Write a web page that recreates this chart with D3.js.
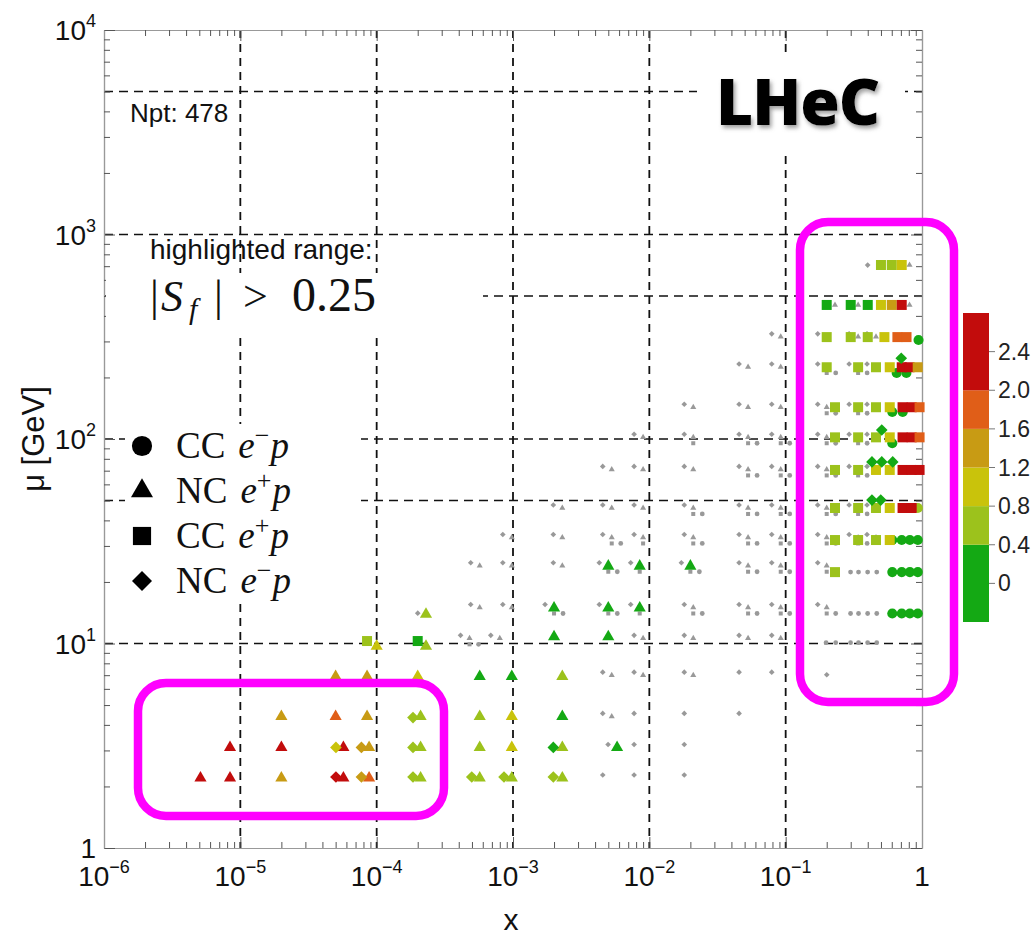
<!DOCTYPE html>
<html>
<head>
<meta charset="utf-8">
<script src="https://cdn.jsdelivr.net/npm/d3@7"></script>
<style>
body { margin: 0; background: #fff; }
</style>
</head>
<body>
<div class="canvas"></div>
<script>
// DATA ------------------------------------------------------------------------
// axis ticks (value + exponent label, '' = plain "1")
const xTickValues = [1e-6, 1e-5, 1e-4, 1e-3, 1e-2, 1e-1, 1];
const xTickLabels = ['\u22126', '\u22125', '\u22124', '\u22123', '\u22122', '\u22121', ''];
const yTickValues = [1, 10, 100, 1000, 10000];
const yTickLabels = ['', '1', '2', '3', '4'];

// dashed reference lines
const gridX = [1e-5, 1e-4, 1e-3, 1e-2, 1e-1];
const gridMu = [5000, 1000, 500, 100, 50, 10];

// colour bar
const colorBreaks = [0.4, 0.8, 1.2, 1.6, 2.0];
const colorTicks = [0, 0.4, 0.8, 1.2, 1.6, 2.0, 2.4];
const colorDomain = [-0.4, 2.8];
const sfCut = 0.25;

// points: [x, mu (GeV), Sf]
const ccEmP = [   // CC e-p, circles
  [0.52, 34.3, 0.3], [0.61, 34.3, 0.3], [0.70, 34.3, 0.3], [0.80, 34.3, 0.3],
  [0.52, 23.9, 0.3], [0.61, 23.9, 0.3], [0.70, 23.9, 0.3], [0.80, 23.9, 0.3],
  [0.52, 15.0, 0.3], [0.61, 15.0, 0.3], [0.70, 15.0, 0.3], [0.80, 15.0, 0.3],
  [0.80, 49.2, 0.6], [0.52, 102, 0.3], [0.52, 145, 0.3], [0.62, 145, 0.3],
  [0.56, 225, 0.3], [0.66, 225, 0.3], [0.81, 326, 0.3],
  [0.2, 225, 0.1], [0.34, 225, 0.1], [0.2, 143, 0.1], [0.34, 143, 0.1],
  [5.3e-2, 102, 0.1], [9.2e-2, 102, 0.1], [0.2, 102, 0.1], [0.34, 102, 0.1],
  [5.3e-2, 71, 0.1], [9.2e-2, 71, 0.1], [0.2, 71, 0.1], [0.34, 71, 0.1],
  [2.1e-2, 46, 0.1], [5.3e-2, 46, 0.1], [9.2e-2, 46, 0.1], [0.2, 46, 0.1], [0.34, 46, 0.1],
  [5.3e-3, 33, 0.1], [2.1e-2, 33, 0.1], [5.3e-2, 33, 0.1], [9.2e-2, 33, 0.1], [0.2, 33, 0.1], [0.34, 33, 0.1],
  [5.0e-3, 24, 0.1], [2.0e-2, 24, 0.1], [5.3e-2, 24, 0.1], [9.2e-2, 24, 0.1], [0.2, 24, 0.1],
  [2.0e-3, 15, 0.1], [5.0e-3, 15, 0.1], [2.1e-2, 15, 0.1], [5.3e-2, 15, 0.1], [9.2e-2, 15, 0.1], [0.2, 15, 0.1],
  [4.8e-4, 10.6, 0.1],
  [0.257, 23.9, 0.1], [0.294, 23.9, 0.1], [0.343, 23.9, 0.1], [0.40, 23.9, 0.1],
  [0.257, 15.0, 0.1], [0.294, 15.0, 0.1], [0.343, 15.0, 0.1], [0.40, 15.0, 0.1],
  [0.17, 10.8, 0.1], [0.2, 10.8, 0.1], [0.257, 10.8, 0.1], [0.294, 10.8, 0.1], [0.343, 10.8, 0.1], [0.40, 10.8, 0.1]
];

const ncEpP = [   // NC e+p, triangles
  [5.1e-6, 2.2, 2.2], [8.4e-6, 2.2, 2.2], [2.0e-5, 2.2, 1.3], [5.7e-5, 2.2, 2.2], [8.8e-5, 2.2, 1.8],
  [2.1e-4, 2.2, 0.7], [5.7e-4, 2.2, 0.6], [9.8e-4, 2.2, 0.6], [2.3e-3, 2.2, 0.6],
  [8.4e-6, 3.1, 2.2], [2.0e-5, 3.1, 2.5], [5.7e-5, 3.1, 2.5], [8.8e-5, 3.1, 1.4], [2.1e-4, 3.1, 0.7],
  [5.7e-4, 3.1, 0.7], [9.8e-4, 3.1, 1.0], [2.3e-3, 3.1, 0.6], [5.8e-3, 3.1, 0.3],
  [2.0e-5, 4.4, 1.3], [5.0e-5, 4.4, 1.8], [8.5e-5, 4.4, 1.3], [2.1e-4, 4.4, 0.7], [5.7e-4, 4.4, 0.7],
  [9.8e-4, 4.4, 0.9], [2.3e-3, 4.4, 0.3],
  [5.0e-5, 6.9, 1.3], [8.5e-5, 6.9, 1.3], [2.0e-4, 6.9, 0.9], [5.7e-4, 6.9, 0.3], [9.8e-4, 6.9, 0.3], [2.3e-3, 6.9, 0.6],
  [1.0e-4, 9.7, 0.9], [2.3e-4, 9.7, 0.6], [2.3e-4, 13.9, 0.6],
  [2.0e-3, 10.8, 0.3], [5.0e-3, 10.8, 0.3],
  [2.0e-3, 14.9, 0.3], [5.0e-3, 14.9, 0.3], [8.5e-3, 14.9, 0.3],
  [5.0e-3, 23.9, 0.3], [8.5e-3, 23.9, 0.3], [2.0e-2, 23.9, 0.3],
  [9.2e-2, 316, 0.1], [0.2, 316, 0.1], [0.34, 316, 0.1], [0.46, 316, 0.1],
  [5.3e-2, 225, 0.1], [9.2e-2, 225, 0.1], [0.2, 225, 0.1], [0.34, 225, 0.1], [0.46, 225, 0.1],
  [2.1e-2, 143, 0.1], [5.3e-2, 143, 0.1], [9.2e-2, 143, 0.1], [0.2, 143, 0.1], [0.34, 143, 0.1], [0.46, 143, 0.1],
  [9.0e-3, 102, 0.1], [2.1e-2, 102, 0.1], [5.3e-2, 102, 0.1], [9.2e-2, 102, 0.1], [0.2, 102, 0.1], [0.34, 102, 0.1], [0.46, 102, 0.1],
  [5.3e-3, 71, 0.1], [9.0e-3, 71, 0.1], [2.1e-2, 71, 0.1], [5.3e-2, 71, 0.1], [9.2e-2, 71, 0.1], [0.2, 71, 0.1], [0.34, 71, 0.1], [0.46, 71, 0.1],
  [2.3e-3, 46, 0.1], [5.3e-3, 46, 0.1], [9.0e-3, 46, 0.1], [2.1e-2, 46, 0.1], [5.3e-2, 46, 0.1], [9.2e-2, 46, 0.1], [0.2, 46, 0.1], [0.34, 46, 0.1], [0.46, 46, 0.1],
  [9.8e-4, 33, 0.1], [2.3e-3, 33, 0.1], [5.3e-3, 33, 0.1], [9.0e-3, 33, 0.1], [2.1e-2, 33, 0.1], [5.3e-2, 33, 0.1], [9.2e-2, 33, 0.1], [0.2, 33, 0.1], [0.34, 33, 0.1], [0.46, 33, 0.1],
  [5.7e-4, 24, 0.1], [9.8e-4, 24, 0.1], [2.3e-3, 24, 0.1], [5.3e-2, 24, 0.1], [9.2e-2, 24, 0.1], [0.2, 24, 0.1],
  [5.7e-4, 15, 0.1], [9.8e-4, 15, 0.1], [2.1e-2, 15, 0.1], [5.3e-2, 15, 0.1], [9.2e-2, 15, 0.1], [0.2, 15, 0.1],
  [4.8e-4, 10.6, 0.1], [8.0e-4, 10.6, 0.1], [9.0e-3, 10.6, 0.1], [2.1e-2, 10.6, 0.1], [5.3e-2, 10.6, 0.1], [9.2e-2, 10.6, 0.1],
  [5.3e-3, 7.0, 0.1], [9.0e-3, 7.0, 0.1], [2.1e-2, 7.0, 0.1], [5.3e-3, 4.4, 0.1],
  [0.23, 452, 0.1], [0.34, 452, 0.1], [0.81, 452, 0.1], [0.81, 710, 0.1]
];

const ccEpP = [   // CC e+p, squares
  [0.50, 759, 0.6], [0.60, 759, 0.6], [0.71, 759, 0.9],
  [0.20, 484, 0.3], [0.30, 484, 0.3], [0.40, 484, 0.3], [0.50, 484, 1.0], [0.60, 484, 1.4], [0.71, 484, 2.5],
  [0.20, 337, 0.6], [0.30, 337, 0.6], [0.40, 337, 0.6], [0.53, 337, 1.0], [0.66, 337, 1.8], [0.77, 337, 1.7],
  [0.20, 240, 0.6], [0.34, 240, 0.6], [0.46, 240, 0.6], [0.58, 240, 1.0], [0.71, 240, 2.5], [0.81, 240, 2.5], [0.93, 240, 1.4],
  [0.23, 153, 0.6], [0.34, 153, 0.6], [0.46, 153, 0.6], [0.58, 153, 1.0], [0.72, 153, 2.2], [0.84, 153, 2.2], [0.96, 153, 1.8],
  [0.23, 109, 0.6], [0.34, 109, 0.6], [0.46, 109, 0.6], [0.58, 109, 1.0], [0.72, 109, 2.5], [0.84, 109, 2.5], [0.96, 109, 1.8],
  [0.23, 75.5, 0.6], [0.34, 75.5, 0.6], [0.46, 75.5, 0.9], [0.58, 75.5, 1.0], [0.72, 75.5, 2.2], [0.84, 75.5, 2.2], [0.96, 75.5, 2.2],
  [0.23, 49.2, 0.6], [0.34, 49.2, 0.6], [0.46, 49.2, 0.7], [0.58, 49.2, 1.0], [0.72, 49.2, 2.5], [0.84, 49.2, 2.5],
  [0.23, 34.3, 0.6], [0.34, 34.3, 0.6], [0.46, 34.3, 0.6], [0.58, 34.3, 0.9],
  [0.23, 23.9, 0.6], [8.5e-5, 11.0, 0.6], [2.0e-4, 11.0, 0.3],
  [0.2, 225, 0.1], [0.34, 225, 0.1], [0.2, 143, 0.1], [0.34, 143, 0.1],
  [2.1e-2, 102, 0.1], [5.3e-2, 102, 0.1], [9.2e-2, 102, 0.1], [0.2, 102, 0.1], [0.34, 102, 0.1],
  [5.3e-2, 71, 0.1], [9.2e-2, 71, 0.1], [0.2, 71, 0.1], [0.34, 71, 0.1],
  [2.1e-2, 46, 0.1], [5.3e-2, 46, 0.1], [9.2e-2, 46, 0.1], [0.2, 46, 0.1], [0.34, 46, 0.1],
  [5.3e-3, 33, 0.1], [9.0e-3, 33, 0.1], [2.1e-2, 33, 0.1], [5.3e-2, 33, 0.1], [9.2e-2, 33, 0.1], [0.2, 33, 0.1], [0.34, 33, 0.1],
  [5.0e-3, 24, 0.1], [8.5e-3, 24, 0.1], [2.0e-2, 24, 0.1], [5.3e-2, 24, 0.1], [9.2e-2, 24, 0.1], [0.2, 24, 0.1],
  [2.0e-3, 15, 0.1], [5.0e-3, 15, 0.1], [8.5e-3, 15, 0.1], [2.1e-2, 15, 0.1], [5.3e-2, 15, 0.1], [9.2e-2, 15, 0.1], [0.2, 15, 0.1],
  [4.8e-4, 10.6, 0.1]
];

const ncEmP = [   // NC e-p, diamonds
  [5.85e-5, 2.15, 2.5], [9.0e-5, 2.15, 1.4], [2.15e-4, 2.15, 0.6], [5.8e-4, 2.15, 0.6], [1.0e-3, 2.15, 0.6], [2.3e-3, 2.15, 0.6],
  [5.85e-5, 3.0, 1.0], [9.0e-5, 3.0, 1.4], [2.15e-4, 3.0, 0.6], [2.3e-3, 3.0, 0.3], [2.15e-4, 4.2, 0.6],
  [0.50, 74.7, 0.3], [0.59, 74.7, 0.3], [0.71, 74.7, -0.3], [0.50, 48.6, 0.3], [0.58, 48.6, 0.3],
  [0.59, 107, 0.3], [0.82, 240, 0.3],
  [9.2e-2, 316, 0.1], [0.2, 316, 0.1], [0.34, 316, 0.1], [0.46, 316, 0.1],
  [5.3e-2, 225, 0.1], [9.2e-2, 225, 0.1], [0.2, 225, 0.1], [0.34, 225, 0.1], [0.46, 225, 0.1],
  [2.1e-2, 143, 0.1], [5.3e-2, 143, 0.1], [9.2e-2, 143, 0.1], [0.2, 143, 0.1], [0.34, 143, 0.1], [0.46, 143, 0.1],
  [9.0e-3, 102, 0.1], [2.1e-2, 102, 0.1], [5.3e-2, 102, 0.1], [9.2e-2, 102, 0.1], [0.2, 102, 0.1], [0.34, 102, 0.1], [0.46, 102, 0.1],
  [5.3e-3, 71, 0.1], [9.0e-3, 71, 0.1], [2.1e-2, 71, 0.1], [5.3e-2, 71, 0.1], [9.2e-2, 71, 0.1], [0.2, 71, 0.1], [0.34, 71, 0.1], [0.46, 71, 0.1],
  [2.3e-3, 46, 0.1], [5.3e-3, 46, 0.1], [9.0e-3, 46, 0.1], [2.1e-2, 46, 0.1], [5.3e-2, 46, 0.1], [9.2e-2, 46, 0.1], [0.2, 46, 0.1], [0.34, 46, 0.1], [0.46, 46, 0.1],
  [9.8e-4, 33, 0.1], [2.3e-3, 33, 0.1], [5.3e-3, 33, 0.1], [9.0e-3, 33, 0.1], [2.1e-2, 33, 0.1], [5.3e-2, 33, 0.1], [9.2e-2, 33, 0.1], [0.2, 33, 0.1], [0.34, 33, 0.1], [0.46, 33, 0.1],
  [5.7e-4, 24, 0.1], [9.8e-4, 24, 0.1], [2.3e-3, 24, 0.1], [5.0e-3, 24, 0.1], [8.5e-3, 24, 0.1], [2.0e-2, 24, 0.1], [5.3e-2, 24, 0.1], [9.2e-2, 24, 0.1], [0.2, 24, 0.1],
  [5.7e-4, 15, 0.1], [9.8e-4, 15, 0.1], [2.0e-3, 15, 0.1], [5.0e-3, 15, 0.1], [8.5e-3, 15, 0.1], [2.1e-2, 15, 0.1], [5.3e-2, 15, 0.1], [9.2e-2, 15, 0.1], [0.2, 15, 0.1],
  [4.8e-4, 10.6, 0.1], [8.0e-4, 10.6, 0.1], [9.0e-3, 10.6, 0.1], [2.1e-2, 10.6, 0.1], [5.3e-2, 10.6, 0.1], [9.2e-2, 10.6, 0.1],
  [5.3e-3, 7.0, 0.1], [9.0e-3, 7.0, 0.1], [2.1e-2, 7.0, 0.1], [5.3e-2, 7.0, 0.1], [9.2e-2, 7.0, 0.1],
  [5.3e-3, 4.4, 0.1], [9.0e-3, 4.4, 0.1], [2.1e-2, 4.4, 0.1], [5.3e-2, 4.4, 0.1],
  [5.8e-3, 3.1, 0.1], [9.0e-3, 3.1, 0.1], [2.1e-2, 3.1, 0.1],
  [5.3e-3, 2.2, 0.1], [9.0e-3, 2.2, 0.1], [2.1e-2, 2.2, 0.1],
  [0.465, 685, 0.1], [0.233, 6.8, 0.1], [2.33e-4, 13.6, 0.1]
];

// SET UP GRAPH ----------------------------------------------------------------
const W = 1034, H = 935;
const margin = { top: 30, right: 112, bottom: 87, left: 104 };
const graphWidth = W - margin.left - margin.right;
const graphHeight = H - margin.top - margin.bottom;

const svg = d3.select('.canvas')
  .append('svg')
    .attr('width', W)
    .attr('height', H)
    .style('display', 'block');

svg.append('rect').attr('width', W).attr('height', H).attr('fill', '#fff');

const defs = svg.append('defs');
defs.append('filter')
    .attr('id', 'shadow')
    .attr('x', '-10%').attr('y', '-20%').attr('width', '130%').attr('height', '150%')
  .append('feDropShadow')
    .attr('dx', 2).attr('dy', 3).attr('stdDeviation', 2)
    .attr('flood-color', '#777').attr('flood-opacity', 0.7);

const graph = svg.append('g')
  .attr('transform', `translate(${margin.left}, ${margin.top})`);

const x = d3.scaleLog().domain([1e-6, 1]).range([0, graphWidth]);
const y = d3.scaleLog().domain([1, 1e4]).range([graphHeight, 0]);

const color = d3.scaleThreshold()
  .domain(colorBreaks)
  .range(['#14a914', '#9cc21c', '#c9c30b', '#c89b14', '#e05e18', '#c20c0c']);

// dashed grid
graph.append('g').selectAll('line')
  .data(gridX)
  .join('line')
    .attr('x1', d => x(d)).attr('x2', d => x(d))
    .attr('y1', 0).attr('y2', graphHeight)
    .attr('stroke', '#111').attr('stroke-width', 1.8)
    .attr('stroke-dasharray', '8,6');

graph.append('g').selectAll('line')
  .data(gridMu)
  .join('line')
    .attr('x1', 0).attr('x2', graphWidth)
    .attr('y1', d => y(d)).attr('y2', d => y(d))
    .attr('stroke', '#111').attr('stroke-width', 1.6)
    .attr('stroke-dasharray', '9,6');

// white boxes behind annotations (as in the original figure)
svg.append('rect').attr('x', 697).attr('y', 53).attr('width', 208).attr('height', 97).attr('fill', '#fff');
svg.append('rect').attr('x', 106).attr('y', 273).attr('width', 377).attr('height', 62).attr('fill', '#fff');
svg.append('rect').attr('x', 125).attr('y', 424).attr('width', 236).attr('height', 179).attr('fill', '#fff');

// AXES ------------------------------------------------------------------------
const xMinor = x.ticks().filter(v => !xTickValues.includes(v));
const yMinor = y.ticks().filter(v => !yTickValues.includes(v));

const styleAxis = g => {
  g.select('.domain').attr('stroke', '#999').attr('stroke-width', 1.2);
  g.selectAll('.tick line').attr('stroke', '#555').attr('stroke-width', 1);
  g.selectAll('.tick text').remove();
};

graph.append('g').attr('transform', `translate(0, ${graphHeight})`)
  .call(d3.axisBottom(x).tickValues(xTickValues).tickSize(-11).tickSizeOuter(0)).call(styleAxis);
graph.append('g').attr('transform', `translate(0, ${graphHeight})`)
  .call(d3.axisBottom(x).tickValues(xMinor).tickSize(-6).tickSizeOuter(0)).call(styleAxis);
graph.append('g')
  .call(d3.axisTop(x).tickValues(xTickValues).tickSize(-11).tickSizeOuter(0)).call(styleAxis);
graph.append('g')
  .call(d3.axisTop(x).tickValues(xMinor).tickSize(-6).tickSizeOuter(0)).call(styleAxis);
graph.append('g')
  .call(d3.axisLeft(y).tickValues(yTickValues).tickSize(-11).tickSizeOuter(0)).call(styleAxis);
graph.append('g')
  .call(d3.axisLeft(y).tickValues(yMinor).tickSize(-6).tickSizeOuter(0)).call(styleAxis);
graph.append('g').attr('transform', `translate(${graphWidth}, 0)`)
  .call(d3.axisRight(y).tickValues(yTickValues).tickSize(-11).tickSizeOuter(0)).call(styleAxis);
graph.append('g').attr('transform', `translate(${graphWidth}, 0)`)
  .call(d3.axisRight(y).tickValues(yMinor).tickSize(-6).tickSizeOuter(0)).call(styleAxis);

const labelFont = '"Liberation Sans", Arial, sans-serif';

// tick labels as 10^n
const xl = graph.append('g').selectAll('text')
  .data(xTickValues)
  .join('text')
    .attr('x', d => x(d))
    .attr('y', graphHeight + 38)
    .attr('text-anchor', 'middle')
    .attr('font-family', labelFont)
    .attr('font-size', 28)
    .attr('fill', '#111');
xl.each(function(d, i) {
  const t = d3.select(this);
  if (xTickLabels[i] === '') { t.text('1'); return; }
  t.append('tspan').text('10');
  t.append('tspan').attr('dy', -13).attr('font-size', 18).text(xTickLabels[i]);
});

const yl = graph.append('g').selectAll('text')
  .data(yTickValues)
  .join('text')
    .attr('x', -8)
    .attr('y', d => y(d) + 10)
    .attr('text-anchor', 'end')
    .attr('font-family', labelFont)
    .attr('font-size', 28)
    .attr('fill', '#111');
yl.each(function(d, i) {
  const t = d3.select(this);
  if (yTickLabels[i] === '') { t.text('1'); return; }
  t.append('tspan').text('10');
  t.append('tspan').attr('dy', -13).attr('font-size', 18).text(yTickLabels[i]);
});

// axis titles
svg.append('text')
  .attr('x', margin.left + x(1e-3) - 2)
  .attr('y', 930)
  .attr('text-anchor', 'middle')
  .attr('font-family', labelFont)
  .attr('font-size', 30)
  .attr('fill', '#111')
  .text('x');

svg.append('text')
  .attr('transform', `translate(44, ${margin.top + y(100)}) rotate(-90)`)
  .attr('text-anchor', 'middle')
  .attr('font-family', labelFont)
  .attr('font-size', 31)
  .attr('fill', '#111')
  .text('\u03bc [GeV]');

// POINTS ----------------------------------------------------------------------
const series = [
  { label: ['CC', '\u2212'], data: ccEmP, type: d3.symbolCircle, rot: 0, dx: 9, dy: 6, big: 80, small: 18, legend: 320 },
  { label: ['NC', '+'], data: ncEpP, type: d3.symbolTriangle, rot: 0, dx: 0, dy: 0, big: 64, small: 16, legend: 210 },
  { label: ['CC', '+'], data: ccEpP, type: d3.symbolSquare, rot: 0, dx: 0, dy: 6, big: 100, small: 16, legend: 330 },
  { label: ['NC', '\u2212'], data: ncEmP, type: d3.symbolSquare, rot: 45, dx: -9, dy: -3, big: 68, small: 16, legend: 200 }
];

const hi = d => Math.abs(d[2]) > sfCut;

// faint points first, highlighted ones on top
['low', 'high'].forEach(layer => {
  series.forEach(s => {
    graph.append('g').selectAll('path')
      .data(s.data.filter(d => layer === 'high' ? hi(d) : !hi(d)))
      .join('path')
        .attr('d', d => d3.symbol(s.type, hi(d) ? s.big : s.small)())
        .attr('transform', d => `translate(${x(d[0]) + s.dx}, ${y(d[1]) + s.dy}) rotate(${s.rot})`)
        .attr('fill', d => hi(d) ? color(d[2]) : '#999');
  });
});

// LEGEND ----------------------------------------------------------------------
const serif = '"Liberation Serif", "DejaVu Serif", serif';
const legend = svg.append('g');
series.forEach((s, i) => {
  const cy = 446 + i * 45;
  legend.append('path')
    .attr('d', d3.symbol(s.type, s.legend)())
    .attr('transform', `translate(142, ${cy}) rotate(${s.rot})`)
    .attr('fill', '#000');
  const t = legend.append('text')
    .attr('x', 176).attr('y', cy + 12)
    .attr('font-family', serif).attr('font-size', 37).attr('fill', '#111');
  t.append('tspan').text(s.label[0]);
  t.append('tspan').attr('dx', 13).attr('font-style', 'italic').text('e');
  t.append('tspan').attr('dy', -14).attr('font-size', 26).text(s.label[1]);
  t.append('tspan').attr('dy', 14).attr('dx', 1).attr('font-style', 'italic').text('p');
});

// ANNOTATIONS -----------------------------------------------------------------
svg.append('text')
  .attr('x', 130).attr('y', 122)
  .attr('font-family', labelFont).attr('font-size', 26).attr('fill', '#111')
  .text('Npt: 478');

svg.append('text')
  .attr('x', 150).attr('y', 259)
  .attr('font-family', labelFont).attr('font-size', 28).attr('fill', '#111')
  .text('highlighted range:');

const sf = svg.append('text')
  .attr('y', 311)
  .attr('font-family', serif).attr('font-size', 44).attr('fill', '#111');
sf.append('tspan').attr('x', 150).text('|');
sf.append('tspan').attr('x', 161).attr('font-style', 'italic').text('S');
sf.append('tspan').attr('x', 189).attr('dy', 8).attr('font-size', 30).attr('font-style', 'italic').text('f');
sf.append('tspan').attr('x', 214).attr('dy', -8).text('|');
sf.append('tspan').attr('x', 243).text('>');
sf.append('tspan').attr('x', 292).attr('font-size', 48).text('0.25');

svg.append('text')
  .attr('x', 716).attr('y', 125)
  .attr('font-family', '"Open Sans", "DejaVu Sans", sans-serif')
  .attr('font-weight', 800).attr('font-size', 64)
  .attr('letter-spacing', -1)
  .attr('fill', '#000')
  .attr('filter', 'url(#shadow)')
  .text('LHeC');

// highlighted regions
svg.append('rect')
  .attr('x', 138).attr('y', 683).attr('width', 306).attr('height', 133).attr('rx', 28)
  .attr('fill', 'none').attr('stroke', '#ff00ff').attr('stroke-width', 8.5);
svg.append('rect')
  .attr('x', 800).attr('y', 222).attr('width', 154).attr('height', 480).attr('rx', 28)
  .attr('fill', 'none').attr('stroke', '#ff00ff').attr('stroke-width', 8.5);

// COLOUR BAR ------------------------------------------------------------------
const cb = d3.scaleLinear().domain(colorDomain).range([622, 313]);
const bandEdges = [colorDomain[0], ...colorBreaks, colorDomain[1]];
const bar = svg.append('g');
bar.selectAll('rect')
  .data(d3.pairs(bandEdges))
  .join('rect')
    .attr('x', 963).attr('width', 26)
    .attr('y', d => cb(d[1]))
    .attr('height', d => cb(d[0]) - cb(d[1]))
    .attr('fill', d => color((d[0] + d[1]) / 2));
bar.selectAll('line')
  .data(colorTicks)
  .join('line')
    .attr('x1', 989).attr('x2', 995)
    .attr('y1', d => cb(d)).attr('y2', d => cb(d))
    .attr('stroke', '#777');
bar.selectAll('text')
  .data(colorTicks)
  .join('text')
    .attr('x', 998)
    .attr('y', d => cb(d) + 8)
    .attr('font-family', labelFont).attr('font-size', 23).attr('fill', '#222')
    .text(d => d === 0 ? '0' : d.toFixed(1));
</script>
</body>
</html>
